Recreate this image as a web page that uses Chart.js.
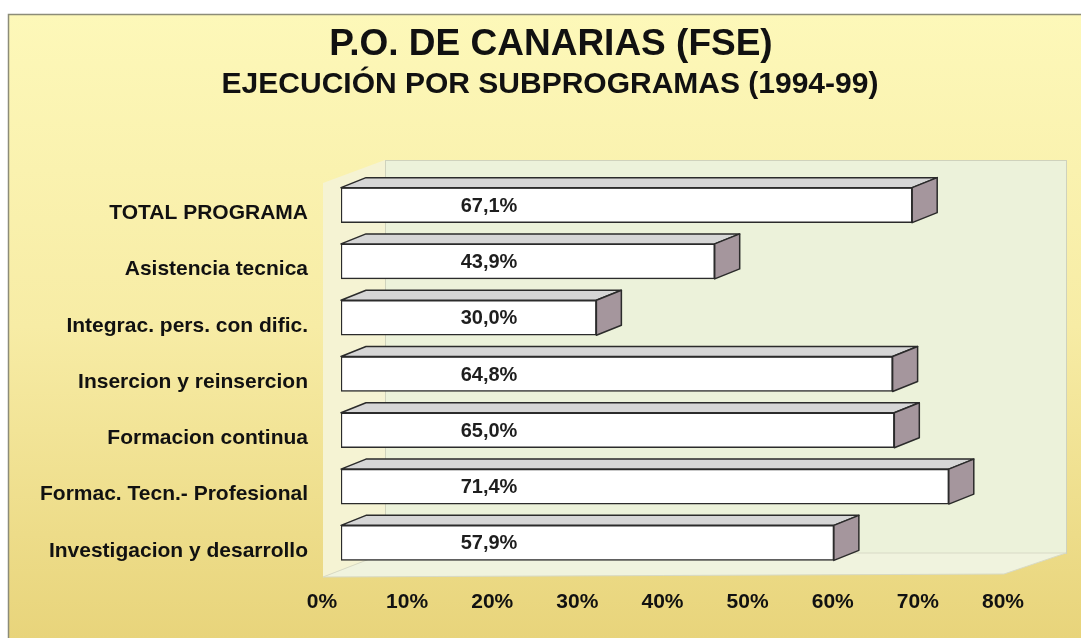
<!DOCTYPE html>
<html>
<head>
<meta charset="utf-8">
<script src="https://cdn.jsdelivr.net/npm/chart.js@4"></script>
<style>
  html, body { margin: 0; padding: 0; background: #ffffff; }
  canvas { display: block; }
</style>
</head>
<body>
<canvas id="fseChart" width="1081" height="638"></canvas>
<script>
// === Data ===
const titleMain = "P.O. DE CANARIAS (FSE)";
const titleSub = "EJECUCIÓN POR SUBPROGRAMAS (1994-99)";

const subprogramas = [
  "TOTAL PROGRAMA",
  "Asistencia tecnica",
  "Integrac. pers. con dific.",
  "Insercion y reinsercion",
  "Formacion continua",
  "Formac. Tecn.- Profesional",
  "Investigacion y desarrollo",
];

const ejecucion = [67.1, 43.9, 30.0, 64.8, 65.0, 71.4, 57.9];

const ejecucionLabels = ["67,1%", "43,9%", "30,0%", "64,8%", "65,0%", "71,4%", "57,9%"];

const xTicks = [0, 10, 20, 30, 40, 50, 60, 70, 80];

const FONT = "'Liberation Sans', Arial, sans-serif";
const DEPTH_X = 25;
const DEPTH_Y = -10;

// === Background, title and 3D walls ===
const backdrop = {
  id: "backdrop",
  beforeDraw(chart) {
    const { ctx, width, height, chartArea } = chart;
    const L = chartArea.left, R = chartArea.right;
    const T = chartArea.top, B = chartArea.bottom;

    ctx.save();
    ctx.fillStyle = "#ffffff";
    ctx.fillRect(0, 0, width, height);

    // yellow panel
    const grad = ctx.createLinearGradient(0, 14, 0, height);
    grad.addColorStop(0, "#fdf8b9");
    grad.addColorStop(0.5, "#f7eca5");
    grad.addColorStop(1, "#e8d47b");
    ctx.fillStyle = grad;
    ctx.fillRect(8, 14, width - 8, height - 14);
    ctx.strokeStyle = "#8c8c78";
    ctx.lineWidth = 1.5;
    ctx.beginPath();
    ctx.moveTo(8.5, height);
    ctx.lineTo(8.5, 14.5);
    ctx.lineTo(width, 14.5);
    ctx.stroke();

    // titles
    ctx.fillStyle = "#111111";
    ctx.textAlign = "center";
    ctx.textBaseline = "middle";
    ctx.font = "bold 37px " + FONT;
    ctx.fillText(titleMain, 551, 45);
    ctx.font = "bold 30px " + FONT;
    ctx.fillText(titleSub, 550, 85);

    // left wall
    ctx.fillStyle = "#f5f3d3";
    ctx.beginPath();
    ctx.moveTo(L - 18, T + 6);
    ctx.lineTo(L + 44, T - 17);
    ctx.lineTo(L + 44, B - 18);
    ctx.lineTo(L - 18, B + 6);
    ctx.closePath();
    ctx.fill();

    // back wall
    ctx.fillStyle = "#ecf2da";
    ctx.fillRect(L + 44, T - 17, R - L, B - T - 1);
    ctx.strokeStyle = "#cfd2bc";
    ctx.lineWidth = 1;
    ctx.strokeRect(L + 44.5, T - 16.5, R - L, B - T - 1);

    // floor
    ctx.fillStyle = "#f0f3de";
    ctx.beginPath();
    ctx.moveTo(L - 18, B + 6);
    ctx.lineTo(R - 18, B + 3);
    ctx.lineTo(R + 44, B - 18);
    ctx.lineTo(L + 44, B - 18);
    ctx.closePath();
    ctx.fill();
    ctx.strokeStyle = "#d8dac6";
    ctx.stroke();
    ctx.restore();
  },
};

// === Bar tops, sides and value labels ===
const bars3d = {
  id: "bars3d",
  afterDatasetsDraw(chart) {
    const { ctx, chartArea } = chart;
    const meta = chart.getDatasetMeta(0);
    ctx.save();
    ctx.lineWidth = 1.5;
    ctx.strokeStyle = "#2b2b2b";
    ctx.lineJoin = "round";
    meta.data.forEach((bar, i) => {
      const x0 = bar.base;
      const x1 = bar.x;
      const top = bar.y - bar.height / 2;
      const bottom = bar.y + bar.height / 2;

      // top face
      ctx.fillStyle = "#d6d6d6";
      ctx.beginPath();
      ctx.moveTo(x0, top);
      ctx.lineTo(x0 + DEPTH_X, top + DEPTH_Y);
      ctx.lineTo(x1 + DEPTH_X, top + DEPTH_Y);
      ctx.lineTo(x1, top);
      ctx.closePath();
      ctx.fill();
      ctx.stroke();

      // side face
      ctx.fillStyle = "#a5969d";
      ctx.beginPath();
      ctx.moveTo(x1, top);
      ctx.lineTo(x1 + DEPTH_X, top + DEPTH_Y);
      ctx.lineTo(x1 + DEPTH_X, bottom + DEPTH_Y);
      ctx.lineTo(x1, bottom);
      ctx.closePath();
      ctx.fill();
      ctx.stroke();

      // value label
      ctx.fillStyle = "#1e1e1e";
      ctx.font = "bold 20px " + FONT;
      ctx.textAlign = "center";
      ctx.textBaseline = "middle";
      ctx.fillText(ejecucionLabels[i], chartArea.left + 148, bar.y + 1);
    });
    ctx.restore();
  },
};

new Chart(document.getElementById("fseChart"), {
  type: "bar",
  data: {
    labels: subprogramas,
    datasets: [
      {
        data: ejecucion,
        backgroundColor: "#ffffff",
        borderColor: "#2b2b2b",
        borderWidth: 1.5,
        borderSkipped: false,
        barThickness: 35,
      },
    ],
  },
  options: {
    indexAxis: "y",
    responsive: false,
    animation: false,
    devicePixelRatio: 1,
    layout: { padding: { left: 8, right: 59, top: 177, bottom: 0 } },
    plugins: {
      legend: { display: false },
      tooltip: { enabled: false },
      title: { display: false },
    },
    scales: {
      x: {
        min: xTicks[0],
        max: xTicks[xTicks.length - 1],
        afterFit: (scale) => { scale.height = 67; },
        afterBuildTicks: (scale) => {
          scale.ticks = xTicks.map((v) => ({ value: v }));
        },
        grid: { display: false, drawTicks: false },
        border: { display: false },
        ticks: {
          callback: (v) => v + "%",
          color: "#111111",
          font: { family: FONT, size: 21, weight: "bold" },
          padding: 19,
          labelOffset: -19,
          maxRotation: 0,
          autoSkip: false,
        },
      },
      y: {
        afterFit: (scale) => { scale.width = 333; },
        grid: { display: false, drawTicks: false },
        border: { display: false },
        ticks: {
          color: "#111111",
          font: { family: FONT, size: 21, weight: "bold" },
          padding: 33,
          labelOffset: 8,
          autoSkip: false,
        },
      },
    },
  },
  plugins: [backdrop, bars3d],
});
</script>
</body>
</html>
